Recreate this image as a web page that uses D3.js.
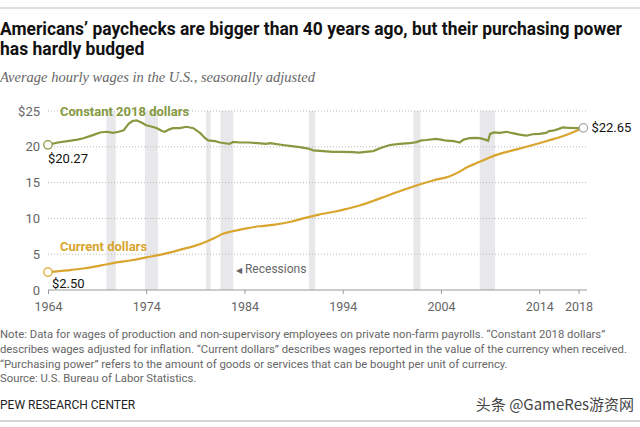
<!DOCTYPE html>
<html>
<head>
<meta charset="utf-8">
<script src="https://cdn.jsdelivr.net/npm/d3@7"></script>
<style>
  body { margin: 0; background: #fff; }
  text { font-family: "Liberation Sans Narrow", "Roboto", sans-serif; }
</style>
</head>
<body>
<div id="chart"></div>
<script>
// values
const constantYears = [1964, 1965, 1966, 1967, 1967.6, 1968.5, 1969.3, 1970, 1970.6, 1971.2, 1971.7, 1972.2, 1972.6, 1973, 1973.5, 1974, 1974.6, 1975.1, 1975.6, 1975.9, 1976.3, 1976.7, 1977.4, 1978.1, 1978.8, 1979.5, 1980, 1980.3, 1981, 1981.5, 1982, 1982.5, 1982.85, 1983.5, 1984.5, 1985.3, 1986.2, 1986.6, 1987.9, 1988.8, 1989.6, 1990.5, 1991, 1992, 1993, 1994, 1995, 1995.7, 1996.3, 1997.1, 1998, 1998.8, 1999.8, 2000.8, 2001.5, 2002, 2002.5, 2003.5, 2004, 2004.6, 2005.3, 2005.9, 2006.3, 2006.9, 2007.5, 2007.95, 2008.5, 2008.8, 2009, 2009.4, 2010, 2010.7, 2011.3, 2012, 2012.7, 2013.3, 2014, 2014.7, 2015, 2015.4, 2016, 2016.4, 2017, 2017.8, 2018.5];
const constantVals = [20.27, 20.6, 20.8, 21.0, 21.2, 21.6, 22.0, 22.1, 21.95, 22.1, 22.3, 23.2, 23.6, 23.7, 23.4, 23.0, 22.8, 22.6, 22.2, 22.1, 22.4, 22.6, 22.6, 22.8, 22.6, 21.9, 21.2, 20.9, 20.8, 20.6, 20.5, 20.4, 20.7, 20.6, 20.6, 20.5, 20.4, 20.5, 20.25, 20.1, 19.95, 19.75, 19.5, 19.4, 19.3, 19.3, 19.25, 19.2, 19.3, 19.4, 19.9, 20.25, 20.4, 20.5, 20.65, 20.9, 20.95, 21.1, 21.0, 20.85, 20.8, 20.6, 21.0, 21.2, 21.25, 21.2, 21.0, 20.85, 21.8, 22.0, 21.95, 22.1, 21.9, 21.7, 21.55, 21.75, 21.8, 21.95, 22.2, 22.25, 22.5, 22.7, 22.65, 22.6, 22.65];

const currentYears = [1964, 1966, 1967.6, 1969.3, 1971, 1972.5, 1974, 1975.5, 1977.4, 1979, 1980.1, 1981, 1981.8, 1982.8, 1984.2, 1985.5, 1986.9, 1988.6, 1990, 1991.5, 1993, 1994.3, 1995.7, 1997, 1998.4, 2000, 2001.5, 2003.2, 2004.9, 2006, 2006.6, 2007.6, 2008.6, 2009.5, 2011.3, 2012.7, 2014, 2015, 2016, 2017.2, 2018.5];
const currentVals = [2.50, 2.75, 3.0, 3.4, 3.85, 4.15, 4.55, 4.95, 5.6, 6.2, 6.75, 7.3, 7.85, 8.2, 8.6, 8.9, 9.1, 9.5, 10.0, 10.5, 10.9, 11.3, 11.8, 12.4, 13.1, 13.9, 14.6, 15.3, 15.9, 16.6, 17.1, 17.7, 18.3, 18.8, 19.5, 20.0, 20.5, 20.9, 21.3, 21.9, 22.65];

const recessionStarts = [1969.95, 1973.87, 1980.1, 1981.55, 1990.55, 2001.2, 2007.95];
const recessionEnds   = [1970.9, 1975.2, 1980.55, 1982.85, 1991.2, 2001.9, 2009.5];

const xTicks = [1964, 1974, 1984, 1994, 2004, 2014, 2018];
const yTicks = [0, 5, 10, 15, 20, 25];

const noteLines = [
  "Note: Data for wages of production and non-supervisory employees on private non-farm payrolls. \u201cConstant 2018 dollars\u201d",
  "describes wages adjusted for inflation. \u201cCurrent dollars\u201d describes wages reported in the value of the currency when received.",
  "\u201cPurchasing power\u201d refers to the amount of goods or services that can be bought per unit of currency.",
  "Source: U.S. Bureau of Labor Statistics."
];

const W = 640, H = 427;
const green = "#86993f", gold = "#d9a52e";

const svg = d3.select("#chart").append("svg")
  .attr("width", W).attr("height", H);

const x = d3.scaleLinear().domain([1964, 2018]).range([48, 578.5]);
const y = d3.scaleLinear().domain([0, 25]).range([290, 111]);

// top & bottom rules
svg.append("line").attr("x1", 0).attr("x2", W).attr("y1", 8).attr("y2", 8)
  .attr("stroke", "#d5d5d5").attr("stroke-width", 1.5);
svg.append("line").attr("x1", 0).attr("x2", W).attr("y1", 421).attr("y2", 421)
  .attr("stroke", "#c8c8c8").attr("stroke-width", 1.5);

// title
svg.append("text").attr("x", 0).attr("y", 35)
  .attr("font-size", 17.5).attr("font-weight", 700).attr("fill", "#111")
  .attr("textLength", 622).attr("lengthAdjust", "spacingAndGlyphs")
  .text("Americans\u2019 paychecks are bigger than 40 years ago, but their purchasing power");
svg.append("text").attr("x", 0).attr("y", 55)
  .attr("font-size", 17.5).attr("font-weight", 700).attr("fill", "#111")
  .text("has hardly budged");
svg.append("text").attr("x", 0).attr("y", 82)
  .style("font-family", "'Liberation Serif', 'DejaVu Serif', serif")
  .attr("font-size", 14.5).attr("font-style", "italic").attr("fill", "#666")
  .text("Average hourly wages in the U.S., seasonally adjusted");

// recession bands
svg.append("g").selectAll("rect")
  .data(recessionStarts.map((s, i) => [s, recessionEnds[i]]))
  .join("rect")
  .attr("x", d => x(d[0]))
  .attr("width", d => x(d[1]) - x(d[0]))
  .attr("y", y(25))
  .attr("height", y(0) - y(25))
  .attr("fill", "#e8e8eb");

// gridlines
svg.append("g").selectAll("line")
  .data(yTicks.filter(d => d > 0))
  .join("line")
  .attr("x1", 48).attr("x2", 587)
  .attr("y1", d => y(d)).attr("y2", d => y(d))
  .attr("stroke", "#bbb").attr("stroke-width", 1)
  .attr("stroke-dasharray", "1,2");

// y labels
svg.append("g").selectAll("text")
  .data(yTicks)
  .join("text")
  .attr("x", 40).attr("y", d => y(d) + 4.5)
  .attr("text-anchor", "end")
  .attr("font-size", 13).attr("fill", "#666")
  .style("font-family", "Roboto, sans-serif")
  .text(d => d === 25 ? "$25" : d);

// x axis
const xAxis = svg.append("g")
  .attr("transform", `translate(0,${y(0)})`)
  .call(d3.axisBottom(x).tickValues(xTicks).tickFormat(d3.format("d")).tickSize(4).tickSizeOuter(0));
xAxis.select(".domain").attr("stroke", "#999").attr("d", `M48,0H587`);
xAxis.selectAll(".tick line").attr("stroke", "#999");
xAxis.selectAll(".tick text")
  .attr("font-size", 12.5).attr("fill", "#666").attr("dy", "1.1em")
  .style("font-family", "Roboto, sans-serif");

// lines
const line = d3.line().x(d => x(d[0])).y(d => y(d[1]));
const constantData = constantYears.map((t, i) => [t, constantVals[i]]);
const currentData = currentYears.map((t, i) => [t, currentVals[i]]);

svg.append("path").datum(currentData)
  .attr("d", line.curve(d3.curveMonotoneX))
  .attr("fill", "none").attr("stroke", gold).attr("stroke-width", 2.2);
svg.append("path").datum(constantData)
  .attr("d", d3.line().x(d => x(d[0])).y(d => y(d[1])))
  .attr("fill", "none").attr("stroke", green).attr("stroke-width", 2.2);

// end markers
const markers = [
  [constantData[0], green],
  [currentData[0], gold],
  [constantData[constantData.length - 1], "#aaa"]
];
svg.append("g").selectAll("circle")
  .data(markers)
  .join("circle")
  .attr("cx", d => x(d[0][0])).attr("cy", d => y(d[0][1]))
  .attr("r", 4.2)
  .attr("fill", "#fff").attr("stroke", d => d[1]).attr("stroke-width", 1.3);

// series labels
const constLbl = svg.append("text").attr("x", 60).attr("y", y(25) + 4.5)
  .attr("font-size", 13).attr("font-weight", 700).attr("fill", green)
  .style("font-family", "Roboto, sans-serif")
  .text("Constant 2018 dollars");
const cb = constLbl.node().getBBox();
svg.insert("rect", "text").attr("x", cb.x - 3).attr("y", cb.y).attr("width", cb.width + 6).attr("height", cb.height)
  .attr("fill", "#fff");
constLbl.raise();

svg.append("text").attr("x", 60).attr("y", y(5) - 3)
  .attr("font-size", 13).attr("font-weight", 700).attr("fill", gold)
  .style("font-family", "Roboto, sans-serif")
  .text("Current dollars");

// value labels
const valueStyle = sel => sel.attr("font-size", 13).attr("fill", "#111").style("font-family", "Roboto, sans-serif");
svg.append("text").attr("x", 48).attr("y", y(constantVals[0]) + 18).call(valueStyle).text("$20.27");
svg.append("text").attr("x", 52).attr("y", y(currentVals[0]) + 16).call(valueStyle).text("$2.50");
svg.append("text").attr("x", x(2018.5) + 8).attr("y", y(22.65) + 4.5).call(valueStyle).text("$22.65");

// recessions annotation
svg.append("text").attr("x", 236).attr("y", 273)
  .attr("font-size", 12).attr("fill", "#666")
  .style("font-family", "Roboto, sans-serif")
  .html('<tspan font-size="8">\u25c0</tspan> Recessions');

// notes
svg.append("g").selectAll("text")
  .data(noteLines)
  .join("text")
  .attr("x", 0).attr("y", (d, i) => 338 + i * 14.8)
  .attr("font-size", 11.3).attr("fill", "#666")
  .text(d => d);

svg.append("text").attr("x", 0).attr("y", 409)
  .attr("font-size", 12).attr("fill", "#222")
  .text("PEW RESEARCH CENTER");

svg.append("text").attr("x", 634).attr("y", 410).attr("text-anchor", "end")
  .style("font-family", "'Noto Sans CJK SC', sans-serif")
  .attr("font-size", 15).attr("fill", "#444")
  .text("头条 @GameRes游资网");
</script>
</body>
</html>
